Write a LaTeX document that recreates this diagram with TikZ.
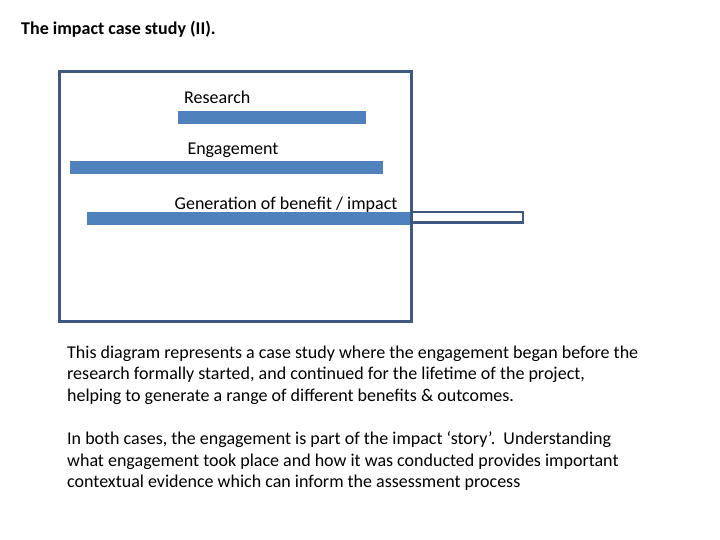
\documentclass[tikz,border=0pt]{standalone}
\usepackage{fontspec}
\setmainfont{Carlito}
\definecolor{framec}{RGB}{62,88,128}
\definecolor{barc}{RGB}{79,129,189}
\begin{document}
\begin{tikzpicture}[x=1pt,y=-1pt,
  txt/.style={anchor=base west,inner sep=0pt,font=\fontsize{18}{21.5}\selectfont},
  bar/.style={fill=barc,draw=none},
  frame/.style={draw=framec,line width=3pt},
  ext/.style={draw=framec,line width=2.5pt,fill=white}]
\useasboundingbox (0,0) rectangle (720,540);
\node[txt,font=\fontsize{18}{21.5}\selectfont\bfseries] (title) at (21,35) {The impact case study (II).};
% bars
\fill[bar] (178,111) rectangle (366,124);
\fill[bar] (70,161) rectangle (383,174);
\fill[bar] (87,212) rectangle (411,225);
\draw[ext] (412,212) rectangle (523,222.5);
\draw[frame] (59.5,71.5) rectangle (411.3,321);
\node[txt] (res) at (184,103.3) {Research};
\node[txt] (eng) at (187.3,154.5) {Engagement};
\node[txt] (gen) at (174.5,209.3) {Generation of benefit / impact};
% text
\node[txt] (p1) at (67,358.3) {This diagram represents a case study where the engagement began before the};
\node[txt] (p2) at (67,379.8) {research formally started, and continued for the lifetime of the project,};
\node[txt] (p3) at (67,401.3) {helping to generate a range of different benefits \& outcomes.};
\node[txt] (q1) at (67,444.6) {In both cases, the engagement is part of the impact ‘story’.\ \ Understanding};
\node[txt] (q2) at (67,466.1) {what engagement took place and how it was conducted provides important};
\node[txt] (q3) at (67,487.6) {contextual evidence which can inform the assessment process};
\end{tikzpicture}
\end{document}
